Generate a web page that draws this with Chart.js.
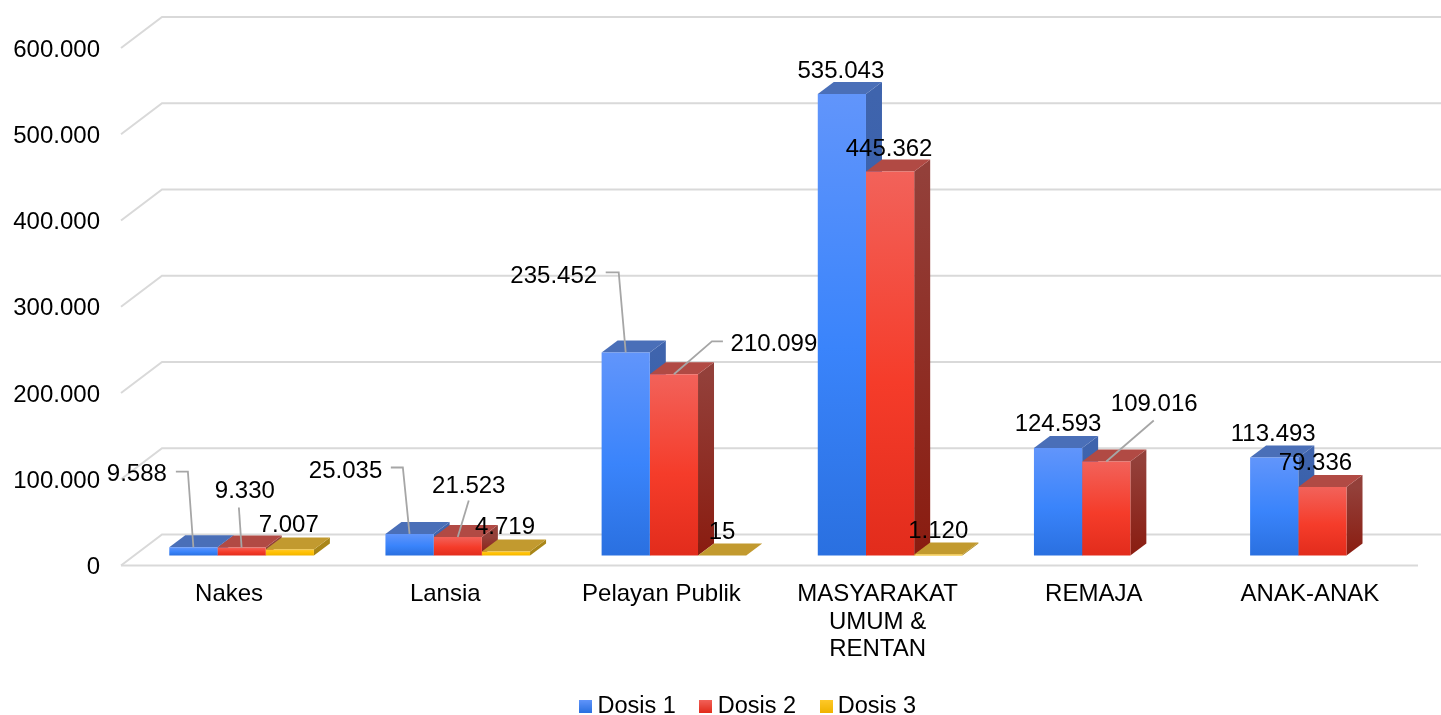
<!DOCTYPE html>
<html>
<head>
<meta charset="utf-8">
<title>Dosis</title>
<script src="https://cdn.jsdelivr.net/npm/chart.js@4"></script>
<style>
    body { margin: 0; background: #fff; }
    canvas { display: block; }
</style>
</head>
<body>
<canvas id="dados" width="1441" height="715"></canvas>
<script>
"use strict";
// data
var kategori = ["Nakes", "Lansia", "Pelayan Publik", ["MASYARAKAT", "UMUM &", "RENTAN"], "REMAJA", "ANAK-ANAK"];
var dosis1 = [9588, 25035, 235452, 535043, 124593, 113493];
var dosis2 = [9330, 21523, 210099, 445362, 109016, 79336];
var dosis3 = [7007, 4719, 15, 1120, null, null];
var yTicks = [0, 100000, 200000, 300000, 400000, 500000, 600000];

// label offsets from the top of each bar, [dataset][category]
var labelDx = [
    [-56.5, -64, -72, -1, 0, -1],
    [3.3, 11, 100, -1, 48, -7],
    [-1, -1, 0, 0, 0, 0]
];
var labelDy = [
    [-74, -64, -77, -24, -25, -24],
    [-57, -52, -31, -23, -58, -25],
    [-25, -25, -24, -24, 0, 0]
];
// leader lines: dataset, category, points relative to the bar top
var leaders = [
    [0, 0, [[-17.5, -75.7], [-5.5, -75.7]]],
    [1, 0, [[-2.7, -40]]],
    [0, 1, [[-18.7, -66.4], [-6.7, -66.4]]],
    [1, 1, [[11, -36.4]]],
    [0, 2, [[-20, -80], [-7, -80]]],
    [1, 2, [[49, -33], [38, -33]]],
    [1, 4, [[47.5, -41]]]
];

// colours: front top/mid/bottom, top face, side top/bottom
var warna = [
    { front: ["#6195fb", "#3a84fb", "#2a70e0"], topo: "#4a6fb8", side: ["#3f64ad", "#2a5aa8"] },
    { front: ["#f2625a", "#f53c2a", "#e22c1c"], topo: "#b14a44", side: ["#93403a", "#8a1c10"] },
    { front: ["#ffc92a", "#ffc000", "#f0b400"], topo: "#c29a2f", side: ["#a98618", "#a07e10"] }
];

var FONTE = "Liberation Sans";
var DEPTH_X = 16, DEPTH_Y = 12;   // bar depth
var SHIFT_X = 12.5, SHIFT_Y = 10; // bars stand inside the floor
var WALL_X = 41, WALL_Y = 31;     // floor depth

function fmt(v) {
    return String(v).replace(/\B(?=(\d{3})+$)/g, ".");
}

function swatch(c) {
    var cv = document.createElement("canvas");
    cv.width = 13;
    cv.height = 13;
    var x = cv.getContext("2d");
    var g = x.createLinearGradient(0, 0, 0, 13);
    g.addColorStop(0, c.front[0]);
    g.addColorStop(1, c.front[2]);
    x.fillStyle = g;
    x.fillRect(0, 0, 13, 13);
    return cv;
}

function frontGradient(idx) {
    return function (ctx) {
        var chart = ctx.chart;
        var y = chart.scales.y;
        var c = warna[idx].front;
        if (!y || ctx.raw === undefined || ctx.raw === null) {
            return c[1];
        }
        var y0 = y.getPixelForValue(ctx.raw), y1 = y.getPixelForValue(0);
        // the legend asks for this before the scales are laid out
        if (!isFinite(y0) || !isFinite(y1)) {
            return c[1];
        }
        var g = chart.ctx.createLinearGradient(0, y0, 0, y1);
        g.addColorStop(0, c[0]);
        g.addColorStop(0.55, c[1]);
        g.addColorStop(1, c[2]);
        return g;
    };
}

function drawFaces(chart, ctx, d, i) {
    var c = warna[d];
    if (chart.data.datasets[d].data[i] === null) {
        return;
    }
    var el = chart.getDatasetMeta(d).data[i];
    var l = el.x - el.width / 2, r = el.x + el.width / 2, t = el.y, b = el.base;
    var g = ctx.createLinearGradient(0, t, 0, b);
    g.addColorStop(0, c.side[0]);
    g.addColorStop(1, c.side[1]);
    ctx.fillStyle = g;
    ctx.beginPath();
    ctx.moveTo(r, t);
    ctx.lineTo(r + DEPTH_X, t - DEPTH_Y);
    ctx.lineTo(r + DEPTH_X, b - DEPTH_Y);
    ctx.lineTo(r, b);
    ctx.closePath();
    ctx.fill();
    ctx.fillStyle = c.topo;
    ctx.beginPath();
    ctx.moveTo(l, t);
    ctx.lineTo(l + DEPTH_X, t - DEPTH_Y);
    ctx.lineTo(r + DEPTH_X, t - DEPTH_Y);
    ctx.lineTo(r, t);
    ctx.closePath();
    ctx.fill();
}

var efeito3d = {
    id: "efeito3d",
    afterLayout: function (chart) {
        chart.legend.left += 42;
        chart.legend.right += 42;
        chart.legend.top += 13;
        chart.legend.bottom += 13;
        // three line label needs more room than the box it gets
        chart.scales.x.bottom += 20;
    },
    beforeDatasetsDraw: function (chart) {
        var ctx = chart.ctx, a = chart.chartArea, sy = chart.scales.y;
        ctx.save();
        ctx.strokeStyle = "#d9d9d9";
        ctx.lineWidth = 2;
        yTicks.forEach(function (v) {
            var p = sy.getPixelForValue(v);
            ctx.beginPath();
            ctx.moveTo(a.left, p);
            ctx.lineTo(a.left + WALL_X, p - WALL_Y);
            ctx.lineTo(chart.width, p - WALL_Y);
            ctx.stroke();
        });
        ctx.beginPath();
        ctx.moveTo(a.left, a.bottom);
        ctx.lineTo(a.right, a.bottom);
        ctx.stroke();
        ctx.restore();
        // side and top faces first, left to right; the fronts go over them
        ctx.save();
        ctx.translate(SHIFT_X, -SHIFT_Y);
        kategori.forEach(function (k, i) {
            chart.data.datasets.forEach(function (ds, d) {
                drawFaces(chart, ctx, d, i);
            });
        });
    },
    afterDatasetsDraw: function (chart) {
        var ctx = chart.ctx;
        ctx.restore();
        ctx.save();
        function anchor(ds, i) {
            var el = chart.getDatasetMeta(ds).data[i];
            return { x: el.x + SHIFT_X, y: el.y - SHIFT_Y };
        }
        ctx.strokeStyle = "#a6a6a6";
        ctx.lineWidth = 1.8;
        leaders.forEach(function (lead) {
            var p = anchor(lead[0], lead[1]);
            ctx.beginPath();
            lead[2].forEach(function (o, k) {
                if (k === 0) {
                    ctx.moveTo(p.x + o[0], p.y + o[1]);
                } else {
                    ctx.lineTo(p.x + o[0], p.y + o[1]);
                }
            });
            ctx.lineTo(p.x, p.y);
            ctx.stroke();
        });
        ctx.fillStyle = "#000";
        ctx.font = "24px '" + FONTE + "'";
        ctx.textAlign = "center";
        ctx.textBaseline = "middle";
        chart.data.datasets.forEach(function (ds, d) {
            ds.data.forEach(function (v, i) {
                if (v === null) {
                    return;
                }
                var p = anchor(d, i);
                ctx.fillText(fmt(v), p.x + labelDx[d][i], p.y + labelDy[d][i] + 1);
            });
        });
        ctx.restore();
    }
};

var chart = new Chart(document.getElementById("dados").getContext("2d"), {
    type: "bar",
    plugins: [efeito3d],
    data: {
        labels: kategori,
        datasets: [
            { label: "Dosis 1", data: dosis1, backgroundColor: frontGradient(0), pointStyle: swatch(warna[0]), clip: false },
            { label: "Dosis 2", data: dosis2, backgroundColor: frontGradient(1), pointStyle: swatch(warna[1]), clip: false },
            { label: "Dosis 3", data: dosis3, backgroundColor: frontGradient(2), pointStyle: swatch(warna[2]), clip: false }
        ]
    },
    options: {
        responsive: false,
        animation: false,
        devicePixelRatio: 1,
        layout: { padding: { top: 48, right: 23, bottom: 0, left: 0 } },
        datasets: { bar: { categoryPercentage: 0.669, barPercentage: 1 } },
        plugins: {
            tooltip: { enabled: false },
            title: { display: false },
            legend: {
                position: "bottom",
                labels: {
                    usePointStyle: true,
                    boxWidth: 0.01,
                    boxHeight: 13,
                    padding: 30,
                    color: "#000",
                    font: { family: FONTE, size: 23.5 }
                }
            }
        },
        scales: {
            x: {
                grid: { display: false, drawTicks: false },
                border: { display: false },
                afterFit: function (s) { s.height = 86; },
                ticks: {
                    autoSkip: false,
                    maxRotation: 0,
                    padding: 15,
                    color: "#000",
                    font: { family: FONTE, size: 24, lineHeight: 1.15 }
                }
            },
            y: {
                min: 0,
                max: 600000,
                grid: { display: false, drawTicks: false },
                border: { display: false },
                afterFit: function (s) { s.width = 121; },
                afterBuildTicks: function (s) {
                    s.ticks = yTicks.map(function (v) { return { value: v }; });
                },
                ticks: {
                    padding: 21,
                    color: "#000",
                    // empty first line pushes the number a little below the line
                    font: { family: FONTE, size: 24, lineHeight: "4px" },
                    callback: function (v) { return ["", fmt(v)]; }
                }
            }
        }
    }
});
</script>
</body>
</html>
